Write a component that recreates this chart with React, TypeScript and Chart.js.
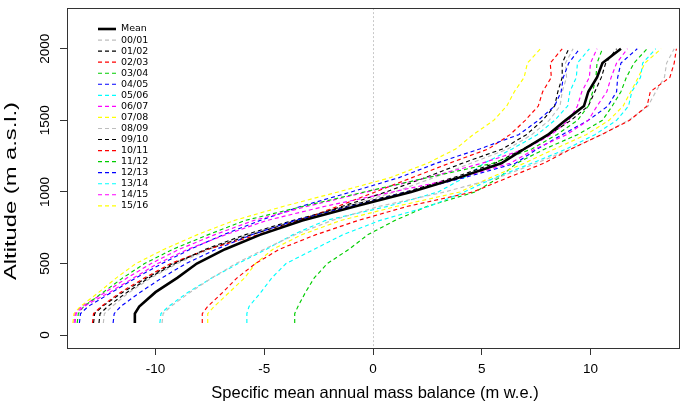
import { useEffect, useRef } from "react";
import { Chart, registerables } from "chart.js";

Chart.register(...registerables);

// Altitude bands (m a.s.l.)
const ALTITUDES = [85, 150, 200, 300, 400, 500, 600, 700, 800, 900, 1000, 1100, 1200, 1300, 1400, 1500, 1600, 1700, 1800, 1900, 2000];

const X_TICKS = [-10, -5, 0, 5, 10];
const Y_TICKS = [0, 500, 1000, 1500, 2000];

const MEAN = [-10.95, -10.95, -10.75, -10.0, -9.0, -8.1, -6.8, -5.2, -3.25, -0.8, 1.75, 3.95, 5.9, 6.95, 8.05, 8.85, 9.7, 9.9, 10.3, 10.55, 11.4];

const YEAR_LABELS = ["00/01", "01/02", "02/03", "03/04", "04/05", "05/06", "06/07", "07/08", "08/09", "09/10", "10/11", "11/12", "12/13", "13/14", "14/15", "15/16"];

const Y0001 = [-12.4, -12.35, -12.0, -11.2, -10.2, -9.0, -7.5, -5.8, -3.6, -1.2, 1.0, 2.8, 4.5, 6.2, 7.3, 8.1, 8.6, 8.7, 8.9, 8.85, 9.2];
const Y0102 = [-12.85, -12.8, -12.45, -11.5, -10.4, -9.2, -7.6, -5.6, -3.5, -1.4, 0.6, 2.4, 4.1, 5.95, 7.05, 7.8, 8.35, 8.5, 8.7, 8.7, 9.0];
const Y0203 = [-12.9, -12.85, -12.5, -11.6, -10.5, -9.3, -7.6, -5.3, -3.4, -1.6, 0.1, 1.8, 3.5, 5.3, 6.3, 7.0, 7.6, 7.8, 8.2, 8.15, 8.7];
const Y0304 = [-3.6, -3.6, -3.45, -3.1, -2.7, -2.1, -1.1, -0.25, 1.0, 2.5, 4.7, 5.8, 6.6, 7.9, 9.4, 10.55, 11.0, 11.4, 11.65, 12.0, 12.6];
const Y0405 = [-13.5, -13.45, -13.1, -12.0, -10.9, -9.7, -8.4, -6.9, -5.2, -3.3, -1.0, 1.2, 2.9, 4.9, 6.7, 7.6, 8.35, 8.65, 8.75, 9.0, 9.5];
const Y0506 = [-9.8, -9.75, -9.4, -8.5, -7.4, -6.2, -4.9, -3.7, -2.2, 0.7, 3.0, 4.2, 5.1, 6.4, 7.55, 8.35, 8.95, 9.05, 9.35, 9.4, 9.95];
const Y0607 = [-13.75, -13.7, -13.4, -12.3, -11.3, -10.2, -8.9, -7.3, -5.5, -3.0, -0.3, 2.5, 5.0, 7.0, 8.2, 9.0, 9.4, 9.6, 9.95, 10.0, 10.3];
const Y0708 = [-7.6, -7.6, -7.3, -6.6, -5.9, -5.4, -4.6, -3.3, -1.5, 1.1, 4.0, 5.4, 6.95, 8.35, 9.8, 10.85, 11.5, 11.85, 12.2, 12.5, 13.25];
const Y0809 = [-9.7, -9.65, -9.3, -8.4, -7.4, -6.3, -5.0, -3.6, -1.9, 0.3, 3.3, 5.75, 7.5, 9.1, 10.5, 11.75, 12.65, 13.0, 13.4, 13.5, 13.85];
const Y0910 = [-12.6, -12.55, -12.2, -11.3, -10.3, -9.1, -7.7, -5.9, -3.7, -1.2, 1.5, 3.7, 5.6, 6.9, 8.1, 9.1, 9.9, 10.2, 10.5, 10.7, 11.2];
const Y1011 = [-7.85, -7.85, -7.6, -6.9, -6.25, -5.4, -4.3, -2.65, -0.7, 1.6, 4.6, 6.2, 7.85, 9.1, 10.5, 11.8, 12.6, 12.75, 13.65, 13.85, 13.95];
const Y1112 = [-13.6, -13.55, -13.3, -12.4, -11.5, -10.5, -9.2, -7.6, -5.9, -3.2, -0.4, 2.5, 5.5, 7.3, 8.45, 9.4, 9.9, 10.1, 10.25, 10.3, 10.55];
const Y1213 = [-11.95, -11.9, -11.6, -10.7, -9.7, -8.6, -7.2, -5.6, -3.6, -1.0, 1.6, 4.2, 6.55, 7.55, 8.7, 9.9, 10.8, 11.2, 11.25, 11.4, 12.15];
const Y1314 = [-5.8, -5.8, -5.7, -5.15, -4.65, -4.0, -2.7, -1.4, 0.3, 2.6, 4.2, 5.6, 7.3, 8.9, 10.2, 11.2, 11.75, 11.9, 12.3, 12.4, 13.0];
const Y1415 = [-13.7, -13.65, -13.3, -12.1, -11.0, -9.9, -8.5, -6.8, -4.9, -2.2, 0.9, 4.0, 6.3, 7.45, 8.9, 9.9, 10.3, 10.75, 10.95, 11.2, 11.7];
const Y1516 = [-13.8, -13.75, -13.45, -12.6, -11.8, -10.9, -9.6, -8.1, -6.4, -4.1, -1.6, 0.8, 2.5, 3.8, 4.6, 5.55, 6.15, 6.5, 6.95, 7.1, 7.7];

const YEAR_SERIES = [Y0001, Y0102, Y0203, Y0304, Y0405, Y0506, Y0607, Y0708, Y0809, Y0910, Y1011, Y1112, Y1213, Y1314, Y1415, Y1516];

// R default palette order (gray, black, red, green3, blue, cyan, magenta, yellow)
const PALETTE = ["#BEBEBE", "#000000", "#FF0000", "#00CD00", "#0000FF", "#00FFFF", "#FF00FF", "#FFFF00"];

const X_TITLE = "Specific mean annual mass balance (m w.e.)";
const Y_TITLE = "Altitude (m a.s.l.)";

const AXIS_FONT = "'Liberation Sans', Arial, sans-serif";

const toPoints = (xs: number[]) => xs.map((x, i) => ({ x, y: ALTITUDES[i] }));

const boxPlugin = {
  id: "rBox",
  afterDraw(chart: any) {
    const { ctx, chartArea } = chart;
    ctx.save();
    ctx.strokeStyle = "#333333";
    ctx.lineWidth = 1;
    ctx.setLineDash([]);
    ctx.strokeRect(
      Math.round(chartArea.left) + 0.5,
      Math.round(chartArea.top) + 0.5,
      Math.round(chartArea.right - chartArea.left),
      Math.round(chartArea.bottom - chartArea.top)
    );
    ctx.restore();
  },
};

const titlesPlugin = {
  id: "rTitles",
  afterDraw(chart: any) {
    const { ctx, chartArea } = chart;
    ctx.save();
    ctx.fillStyle = "#000";
    ctx.textAlign = "center";
    ctx.textBaseline = "middle";
    ctx.font = `16.5px ${AXIS_FONT}`;
    ctx.fillText(X_TITLE, (chartArea.left + chartArea.right) / 2 + 2, 393);

    ctx.font = `16px ${AXIS_FONT}`;
    const w = ctx.measureText(Y_TITLE).width;
    ctx.translate(12, 191);
    ctx.rotate(-Math.PI / 2);
    ctx.scale(178 / w, 1);
    ctx.fillText(Y_TITLE, 0, 0);
    ctx.restore();
  },
};

const legendPlugin = {
  id: "rLegend",
  afterDraw(chart: any) {
    const { ctx } = chart;
    ctx.save();
    ctx.font = "9.5px 'DejaVu Sans', Verdana, sans-serif";
    ctx.textBaseline = "middle";
    ctx.textAlign = "left";
    chart.data.datasets.forEach((ds: any, i: number) => {
      const y = 29 + i * 11.05;
      ctx.beginPath();
      ctx.setLineDash(ds.borderDash || []);
      ctx.lineWidth = ds.borderWidth;
      ctx.strokeStyle = ds.borderColor;
      ctx.moveTo(98, y);
      ctx.lineTo(116, y);
      ctx.stroke();
      ctx.setLineDash([]);
      ctx.fillStyle = "#000";
      ctx.fillText(ds.label, 121, y);
    });
    ctx.restore();
  },
};

export default function App() {
  const canvasRef = useRef<HTMLCanvasElement | null>(null);

  useEffect(() => {
    const canvas = canvasRef.current;
    if (!canvas) return;

    const datasets: any[] = [
      {
        label: "Mean",
        data: toPoints(MEAN),
        borderColor: "#000000",
        borderWidth: 2.6,
        borderDash: [],
        order: 0,
      },
      ...YEAR_SERIES.map((s, i) => ({
        label: YEAR_LABELS[i],
        data: toPoints(s),
        borderColor: PALETTE[i % PALETTE.length],
        borderWidth: 1.15,
        borderDash: [4, 3],
        order: YEAR_SERIES.length - i,
      })),
    ].map((d) => ({ ...d, showLine: true, pointRadius: 0, pointHoverRadius: 0, fill: false, tension: 0 }));

    const chart = new Chart(canvas, {
      type: "scatter",
      data: { datasets },
      options: {
        responsive: false,
        animation: false,
        events: [],
        layout: { padding: { left: 0, top: 5, right: 7, bottom: 0 } },
        plugins: {
          legend: { display: false },
          tooltip: { enabled: false },
          title: { display: false },
        },
        scales: {
          x: {
            type: "linear",
            position: "bottom",
            min: -14.07,
            max: 14.07,
            afterBuildTicks: (scale: any) => {
              scale.ticks = X_TICKS.map((v) => ({ value: v }));
            },
            afterFit: (scale: any) => {
              scale.height = 60;
            },
            ticks: {
              color: "#000",
              font: { family: AXIS_FONT, size: 13.5 },
              padding: 6,
              maxRotation: 0,
              minRotation: 0,
              autoSkip: false,
              callback: (v: any) => String(v),
            },
            grid: {
              display: true,
              drawOnChartArea: true,
              drawTicks: true,
              tickLength: 7,
              tickColor: "#333333",
              tickWidth: 1,
              lineWidth: 1,
              color: (ctx: any) => (ctx.tick && ctx.tick.value === 0 ? "#C8C8C8" : "rgba(0,0,0,0)"),
            },
            border: { display: false, dash: [2, 2] },
          },
          y: {
            type: "linear",
            position: "left",
            min: -90,
            max: 2284,
            afterBuildTicks: (scale: any) => {
              scale.ticks = Y_TICKS.map((v) => ({ value: v }));
            },
            afterFit: (scale: any) => {
              scale.width = 67;
            },
            ticks: {
              color: "#000",
              font: { family: AXIS_FONT, size: 13.5 },
              padding: 0,
              minRotation: 90,
              maxRotation: 90,
              crossAlign: "center",
              autoSkip: false,
              callback: (v: any) => String(v),
            },
            grid: {
              display: true,
              drawOnChartArea: false,
              drawTicks: true,
              tickLength: 7,
              tickColor: "#333333",
              tickWidth: 1,
              color: "rgba(0,0,0,0)",
            },
            border: { display: false },
          },
        },
      },
      plugins: [boxPlugin, titlesPlugin, legendPlugin],
    } as any);

    return () => {
      chart.destroy();
    };
  }, []);

  return (
    <div style={{ position: "absolute", left: 0, top: 0, width: 686, height: 408, background: "#fff" }}>
      <canvas ref={canvasRef} width={686} height={408} style={{ display: "block", width: 686, height: 408 }} />
    </div>
  );
}
